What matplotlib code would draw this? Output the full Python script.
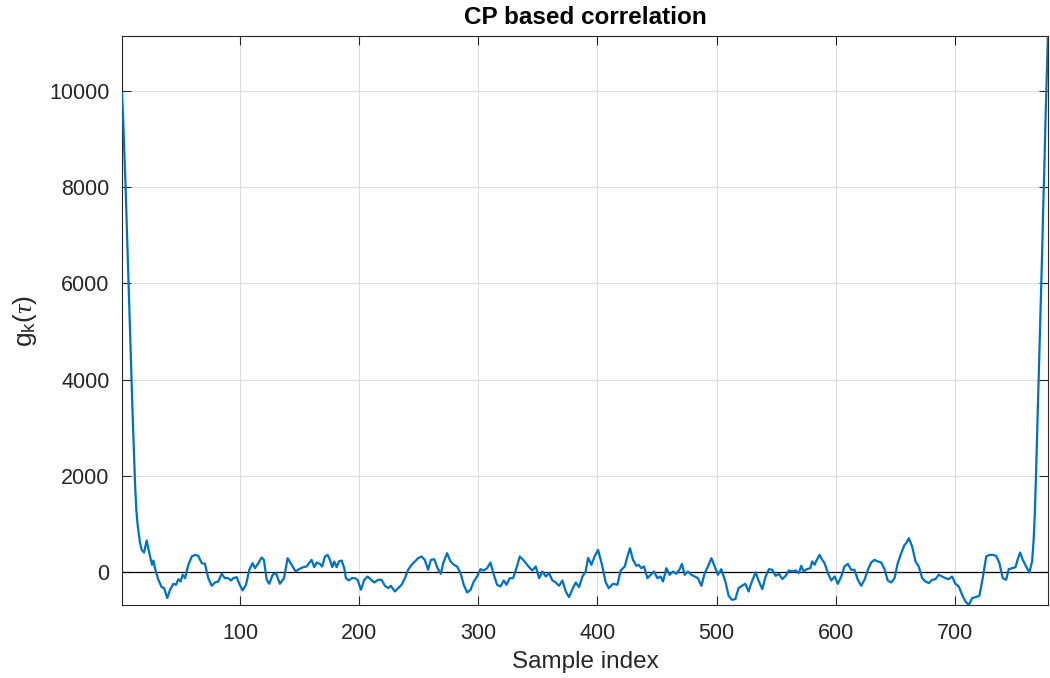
import matplotlib
matplotlib.use("Agg")
import matplotlib.pyplot as plt
import numpy as np

# values
sample_idx = [
    1, 2, 3, 4, 5, 6, 7, 8, 9, 10, 11, 12, 13, 14, 15, 16,
    17.5, 19.5, 21.7, 23.9, 26.2, 27.3, 29, 31.5, 34.3, 36.3, 39, 41.3, 44.1, 46.3,
    48.3, 50.2, 51.9, 53.9, 56.7, 59.5, 62.3, 65.0, 67.9, 70.6, 73.4, 76.3, 79.0,
    81.8, 84.6, 87.4, 90.2, 92.5, 94.4, 97.2, 99.4, 102.2, 105.0, 107.8, 110.6,
    112.6, 115.4, 118.2, 120.1, 122.4, 124.6, 127.4, 130.2, 133.5, 136.9, 140,
    143.3, 146.7, 149.5, 153.1, 155.9, 157.9, 160.1, 162.3, 164.3, 167.1, 169.0,
    171.3, 173.5, 175.5, 177.4, 179.1, 181.1, 183.0, 185.3, 187.5, 188.9, 191.4,
    193.7, 196.4, 198.7, 201.5, 204.3, 207.1, 209.9, 212.7, 216.0, 218.8, 221.6,
    224.4, 226.6, 230.0, 232.8, 235.6, 238.4, 241.1, 244.0, 246.8, 249.5, 252.4,
    255.1, 257.9, 260.2, 263, 265.8, 268.6, 270.5, 273.8, 276.7, 279.5, 282.2,
    285.1, 287.8, 290.6, 293.5, 296.2, 299.0, 301.8, 304.6, 307.4, 310.2, 313.0,
    315.8, 318.6, 321.4, 323.6, 326.4, 329.2, 332.0, 334.8, 337.6, 340.4, 342.6,
    345.4, 348.2, 351.0, 353.8, 356.6, 359.4, 362.2, 365.0, 367.8, 370.6, 373.4,
    376.1, 379.0, 381.8, 384.5, 387.4, 390.1, 392.1, 394.9, 397.7, 400.5, 403.8,
    406.7, 409.4, 413.1, 416.7, 419.5, 422.9, 425.1, 427.3, 429.8, 432.7, 434.6,
    436.8, 439.1, 441.9, 444.7, 447.4, 450.3, 453.0, 455.0, 457.8, 460.6, 463.4,
    466.2, 469.0, 470.9, 473.2, 476.0, 478.8, 481.6, 484.3, 487.2, 490.0, 492.7,
    495.6, 498.4, 501.1, 503.9, 507.3, 510.1, 512.8, 515.7, 518.4, 521.2, 524.1,
    526.8, 529.6, 532.7, 535.5, 538.3, 541.1, 543.9, 546.7, 549.5, 552.3, 555.1,
    557.9, 560.6, 563.5, 566.3, 569.0, 571.0, 572.9, 575.7, 578.6, 580.2, 582.2,
    584.1, 586.4, 588.6, 590.6, 593.4, 596.2, 599.0, 601.7, 604.6, 607.3, 610.1,
    612.9, 615.7, 618.5, 621.3, 624.1, 626.9, 629.7, 632.5, 635.3, 638.1, 640.9,
    643.6, 646.5, 649.3, 652.0, 654.9, 657.7, 659.1, 661.3, 664.1, 666.9, 669.6,
    672.5, 675.3, 678.0, 680.9, 683.6, 686.4, 689.3, 692.0, 694.8, 697.6, 700.4,
    703.2, 706.0, 708.8, 711.6, 714.4, 717.2, 720.5, 723.3, 726.2, 728.9, 731.7,
    734.6, 737.3, 740.1, 743.0, 745.1, 748.0, 750.8, 752.7, 754.7, 756.9, 759.7,
    762.5, 764.7, 765, 766, 767, 768, 769, 770, 771, 772, 773, 774, 775, 776, 777, 778,
]
g_values = [
    9950, 9400, 8700, 8000, 7200, 6400, 5600, 4800, 4000, 3200, 2500, 1800, 1300, 1000, 800, 620,
    457, 402, 651, 388, 146, 235, 42, -166, -318, -340, -547, -374, -249, -270,
    -152, -201, -62, -132, 146, 318, 353, 333, 180, 166, -132, -291, -222,
    -201, -42, -132, -132, -180, -132, -111, -249, -388, -270, 42, 180,
    76, 180, 298, 249, -166, -249, -62, -28, -249, -132, 284,
    146, 7, 55, 97, 111, 180, 249, 97, 194, 166, 111,
    318, 353, 249, 97, 215, 97, 215, 235, 76, -132, -180,
    -132, -132, -166, -374, -166, -97, -166, -222, -166, -166, -291,
    -340, -291, -409, -340, -270, -132, 42, 146, 215, 284, 318,
    249, 42, 249, 263, 76, -42, 180, 388, 215, 146, 111,
    -28, -270, -430, -374, -201, -97, 55, 28, 76, 194, -62,
    -270, -305, -180, -270, -132, -132, 76, 318, 249, 166, 97,
    28, 111, -132, 7, -97, -28, -180, -222, -291, -180, -409,
    -527, -360, -222, -318, -97, 7, 290, 146, 330, 457, 146,
    -201, -340, -249, -270, 28, 111, 318, 492, 249, 125, 146,
    76, 111, -132, -62, 7, -132, -97, -201, 76, -62, 7,
    -42, 55, 166, -62, 7, -62, -97, -132, -291, -28, 111,
    284, 111, -62, 55, -201, -499, -582, -568, -340, -291, -249,
    -409, -200, -14, -201, -360, -97, 55, 42, -83, -42, -152,
    -83, 28, 7, 28, -28, 125, 7, 55, 76, 215, 146,
    249, 353, 249, 180, -28, -180, -97, -249, -97, 111, 166,
    42, 42, -166, -291, -166, 42, 194, 249, 215, 194, 55,
    -180, -222, -132, 180, 388, 561, 596, 700, 526, 215, 111,
    -132, -201, -235, -166, -152, -62, -97, -132, -152, -97, -249,
    -305, -478, -617, -690, -547, -527, -499, -132, 318, 353, 353,
    333, 180, -132, -166, 55, 76, 97, 263, 402, 249, 111,
    -14, 215, 300, 650, 1200, 2000, 2900, 3800, 4700, 5600, 6500, 7500, 8400, 9400, 10300, 11150,
]
x_ticks = [100, 200, 300, 400, 500, 600, 700]
y_ticks = [0, 2000, 4000, 6000, 8000, 10000]

plt.rcParams['font.family'] = ['Liberation Sans', 'DejaVu Sans']
plt.rcParams['mathtext.fontset'] = 'custom'
plt.rcParams['mathtext.rm'] = 'Liberation Sans'
plt.rcParams['mathtext.it'] = 'Liberation Serif:italic'

text_col = '#262626'

fig = plt.figure(figsize=(10.5, 6.78), dpi=100)
ax = fig.add_axes([0.1162, 0.1077, 0.8818, 0.8392])

ax.plot(sample_idx, g_values, color='#0072BD', linewidth=1.6, zorder=3)
ax.axhline(0, color='black', linewidth=0.9, zorder=2)

ax.set_xlim(1, 778)
ax.set_ylim(-690, 11150)
ax.set_xticks(x_ticks)
ax.set_yticks(y_ticks)

ax.grid(True, color='#dfdfdf', linewidth=0.8)
ax.set_axisbelow(True)
ax.tick_params(direction='in', length=6.5, width=0.8, colors=text_col,
               labelsize=15.5, top=True, right=True)
ax.tick_params(axis='y', pad=9)
ax.tick_params(axis='x', pad=13)
for s in ax.spines.values():
    s.set_color(text_col)
    s.set_linewidth(0.8)

ax.set_title('CP based correlation', fontsize=17.5, fontweight='bold', color='black', pad=9)
ax.set_xlabel('Sample index', fontsize=17.5, color=text_col, labelpad=5)
ax.set_ylabel(r'g$_{\mathrm{k}}$($\tau$)', fontsize=19, color=text_col, labelpad=7)

fig.savefig('out.png', dpi=100)
